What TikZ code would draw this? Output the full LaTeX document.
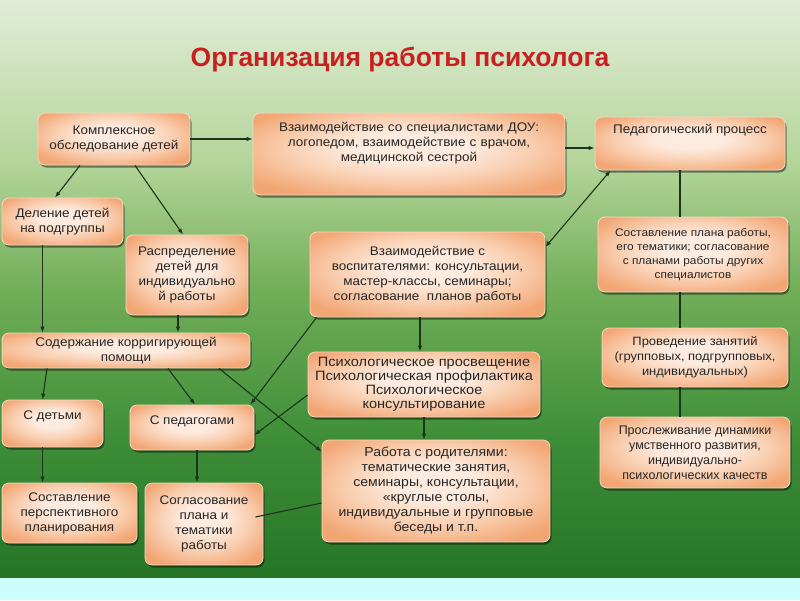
\documentclass[tikz,border=0pt]{standalone}
\usepackage{fontspec}
\setmainfont{Liberation Sans}
\newfontfamily\boxfont[FakeStretch=1.08]{Liberation Sans}
\usetikzlibrary{arrows.meta,shadows}

\definecolor{bgtop}{HTML}{E2ECD8}
\definecolor{bgup}{HTML}{B4D59A}
\definecolor{bgmid}{HTML}{72AE58}
\definecolor{bglow}{HTML}{3E8E38}
\definecolor{bgbot}{HTML}{267526}
\definecolor{strip}{HTML}{CCFEFD}
\definecolor{peachlt}{HTML}{FDEBDF}
\definecolor{peachmd}{HTML}{F9CDAE}
\definecolor{peachdk}{HTML}{F2A674}
\definecolor{peached}{HTML}{F9D9C2}
\definecolor{txtgray}{HTML}{262626}
\definecolor{titlered}{HTML}{C8201E}
\definecolor{linegreen}{HTML}{1E331E}

\pgfdeclareverticalshading{meadow}{100bp}{color(0bp)=(bgbot); color(25bp)=(bgbot); color(37bp)=(bglow); color(50bp)=(bgmid); color(61bp)=(bgup); color(75bp)=(bgtop); color(100bp)=(bgtop)}
\pgfdeclareradialshading{peach}{\pgfpoint{0bp}{5bp}}{color(0bp)=(peachlt); color(9bp)=(peachlt); color(20bp)=(peachmd); color(31bp)=(peachdk); color(50bp)=(peachdk)}

\begin{document}
\begin{tikzpicture}[x=1pt,y=-1pt,
  blk/.style={rounded corners=7pt, shading=peach, draw=peached, line width=0.8pt,
    drop shadow={shadow xshift=1.5pt, shadow yshift=-2.5pt, fill=black, opacity=0.45},
    align=center, text=txtgray, inner sep=3pt, font=\boxfont\fontsize{12.5}{15}\selectfont},
  arr/.style={draw=linegreen, line width=1.1pt, -{Latex[length=6pt,width=4.5pt]}},
  bothways/.style={draw=linegreen, line width=1.1pt, {Latex[length=6pt,width=4.5pt]}-{Latex[length=6pt,width=4.5pt]}},
  lnk/.style={draw=linegreen, line width=1.1pt}]
\useasboundingbox (0,0) rectangle (800,600);

% Background
\shade[shading=meadow] (0,0) rectangle (800,578);
\fill[strip] (0,578) rectangle (800,600);

% Title
\node[font=\bfseries\fontsize{26.5}{30}\selectfont, text=titlered] (ttl) at (400,60) {Организация работы психолога};

% Top row
\node[blk, minimum width=152pt, minimum height=52pt] (komp) at (114,139) {Комплексное\\обследование детей};
\node[blk, minimum width=312pt, text width=304pt, text height=15.5pt, text depth=60.5pt] (spec) at (409,154) {Взаимодействие со специалистами ДОУ:\\логопедом, взаимодействие с врачом,\\медицинской сестрой};
\node[blk, minimum width=190pt, text height=13.5pt, text depth=33.5pt] (ped) at (690,143.5) {Педагогический процесс};

% Left branch
\node[blk, minimum width=121pt, minimum height=47pt] (del) at (62.5,221.5) {Деление детей\\на подгруппы};
\node[blk, minimum width=122pt, minimum height=80pt] (raspr) at (187,275) {Распределение\\детей для\\индивидуально\\й работы};
\node[blk, minimum width=248pt, minimum height=35pt] (sod) at (126,350.5) {Содержание корригирующей\\помощи};
\node[blk, minimum width=101pt, text height=16pt, text depth=25pt] (sdet) at (52.5,423.5) {С детьми};
\node[blk, minimum width=124pt, text height=16pt, text depth=23pt] (sped) at (192,427.5) {С педагогами};
\node[blk, minimum width=135pt, minimum height=60pt] (sost) at (69.5,513) {Составление\\перспективного\\планирования};
\node[blk, minimum width=118pt, minimum height=82pt] (sogl) at (204,524) {Согласование\\плана и\\тематики\\работы};

% Middle column
\node[blk, minimum width=235pt, minimum height=85pt] (vosp) at (427.5,274.5) {Взаимодействие с\\воспитателями: консультации,\\мастер-классы, семинары;\\согласование~~планов работы};
\node[blk, minimum width=232pt, minimum height=65pt, inner sep=2pt, font=\boxfont\fontsize{13.5}{14}\selectfont] (psy) at (424,384.5) {Психологическое просвещение\\Психологическая профилактика\\Психологическое\\консультирование};
\node[blk, minimum width=228pt, minimum height=102pt, font=\boxfont\fontsize{13}{15}\selectfont] (rod) at (436,491) {Работа с родителями:\\тематические занятия,\\семинары, консультации,\\«круглые столы,\\индивидуальные и групповые\\беседы и т.п.};

% Right column
\node[blk, minimum width=190pt, minimum height=75pt, font=\boxfont\fontsize{11}{14}\selectfont] (plan) at (693,254.5) {Составление плана работы,\\его тематики; согласование\\с планами работы других\\специалистов};
\node[blk, minimum width=186pt, minimum height=59pt, font=\boxfont\fontsize{12}{15}\selectfont] (prov) at (695,357.5) {Проведение занятий\\(групповых, подгрупповых,\\индивидуальных)};
\node[blk, minimum width=190pt, minimum height=71pt, font=\fontsize{12.5}{15}\selectfont] (prosl) at (695,452.5) {Прослеживание динамики\\умственного развития,\\индивидуально-\\психологических качеств};

% Connectors
\draw[arr] (komp.east) -- (komp.east -| spec.west);
\draw[arr] ([yshift=6pt]spec.east) -- ([yshift=6pt]spec.east -| ped.west);
\draw[arr] ([xshift=-34pt]komp.south) -- ([xshift=-7.5pt]del.north);
\draw[arr] ([xshift=21pt]komp.south) -- ([xshift=-4pt]raspr.north);
\draw[arr] ([xshift=-20pt]del.south) -- ([xshift=-20pt]del.south |- sod.north);
\draw[arr] ([xshift=-9pt]raspr.south) -- ([xshift=-9pt]raspr.south |- sod.north);
\draw[arr] ([xshift=-79pt]sod.south) -- ([xshift=-10pt]sdet.north);
\draw[arr] ([xshift=42pt]sod.south) -- ([xshift=3pt]sped.north);
\draw[arr] ([xshift=93pt]sod.south) -- ([yshift=-12pt]rod.north west);
\draw[arr] ([xshift=-10pt]sdet.south) -- ([xshift=-10pt]sdet.south |- sost.north);
\draw[arr] ([xshift=5pt]sped.south) -- ([xshift=5pt]sped.south |- sogl.north);
\draw[lnk] ([xshift=-8pt,yshift=7pt]sogl.east) -- ([yshift=-12pt]rod.west);
\draw[bothways] ([xshift=16pt]ped.south west) -- ([yshift=27.5pt]vosp.east);
\draw[arr] ([xshift=7pt]vosp.south west) -- ([xshift=-4pt]sped.north east);
\draw[arr] ([yshift=-10.5pt]psy.west) -- ([yshift=-7.5pt]sped.east);
\draw[arr] ([xshift=-7.5pt]vosp.south) -- ([xshift=-7.5pt]vosp.south |- psy.north);
\draw[arr] (psy.south) -- (psy.south |- rod.north);
\draw[lnk] ([xshift=-10pt]ped.south) -- ([xshift=-10pt]ped.south |- plan.north);
\draw[lnk] ([xshift=-13pt]plan.south) -- ([xshift=-13pt]plan.south |- prov.north);
\draw[lnk] ([xshift=-15pt]prov.south) -- ([xshift=-15pt]prov.south |- prosl.north);
\end{tikzpicture}
\end{document}
